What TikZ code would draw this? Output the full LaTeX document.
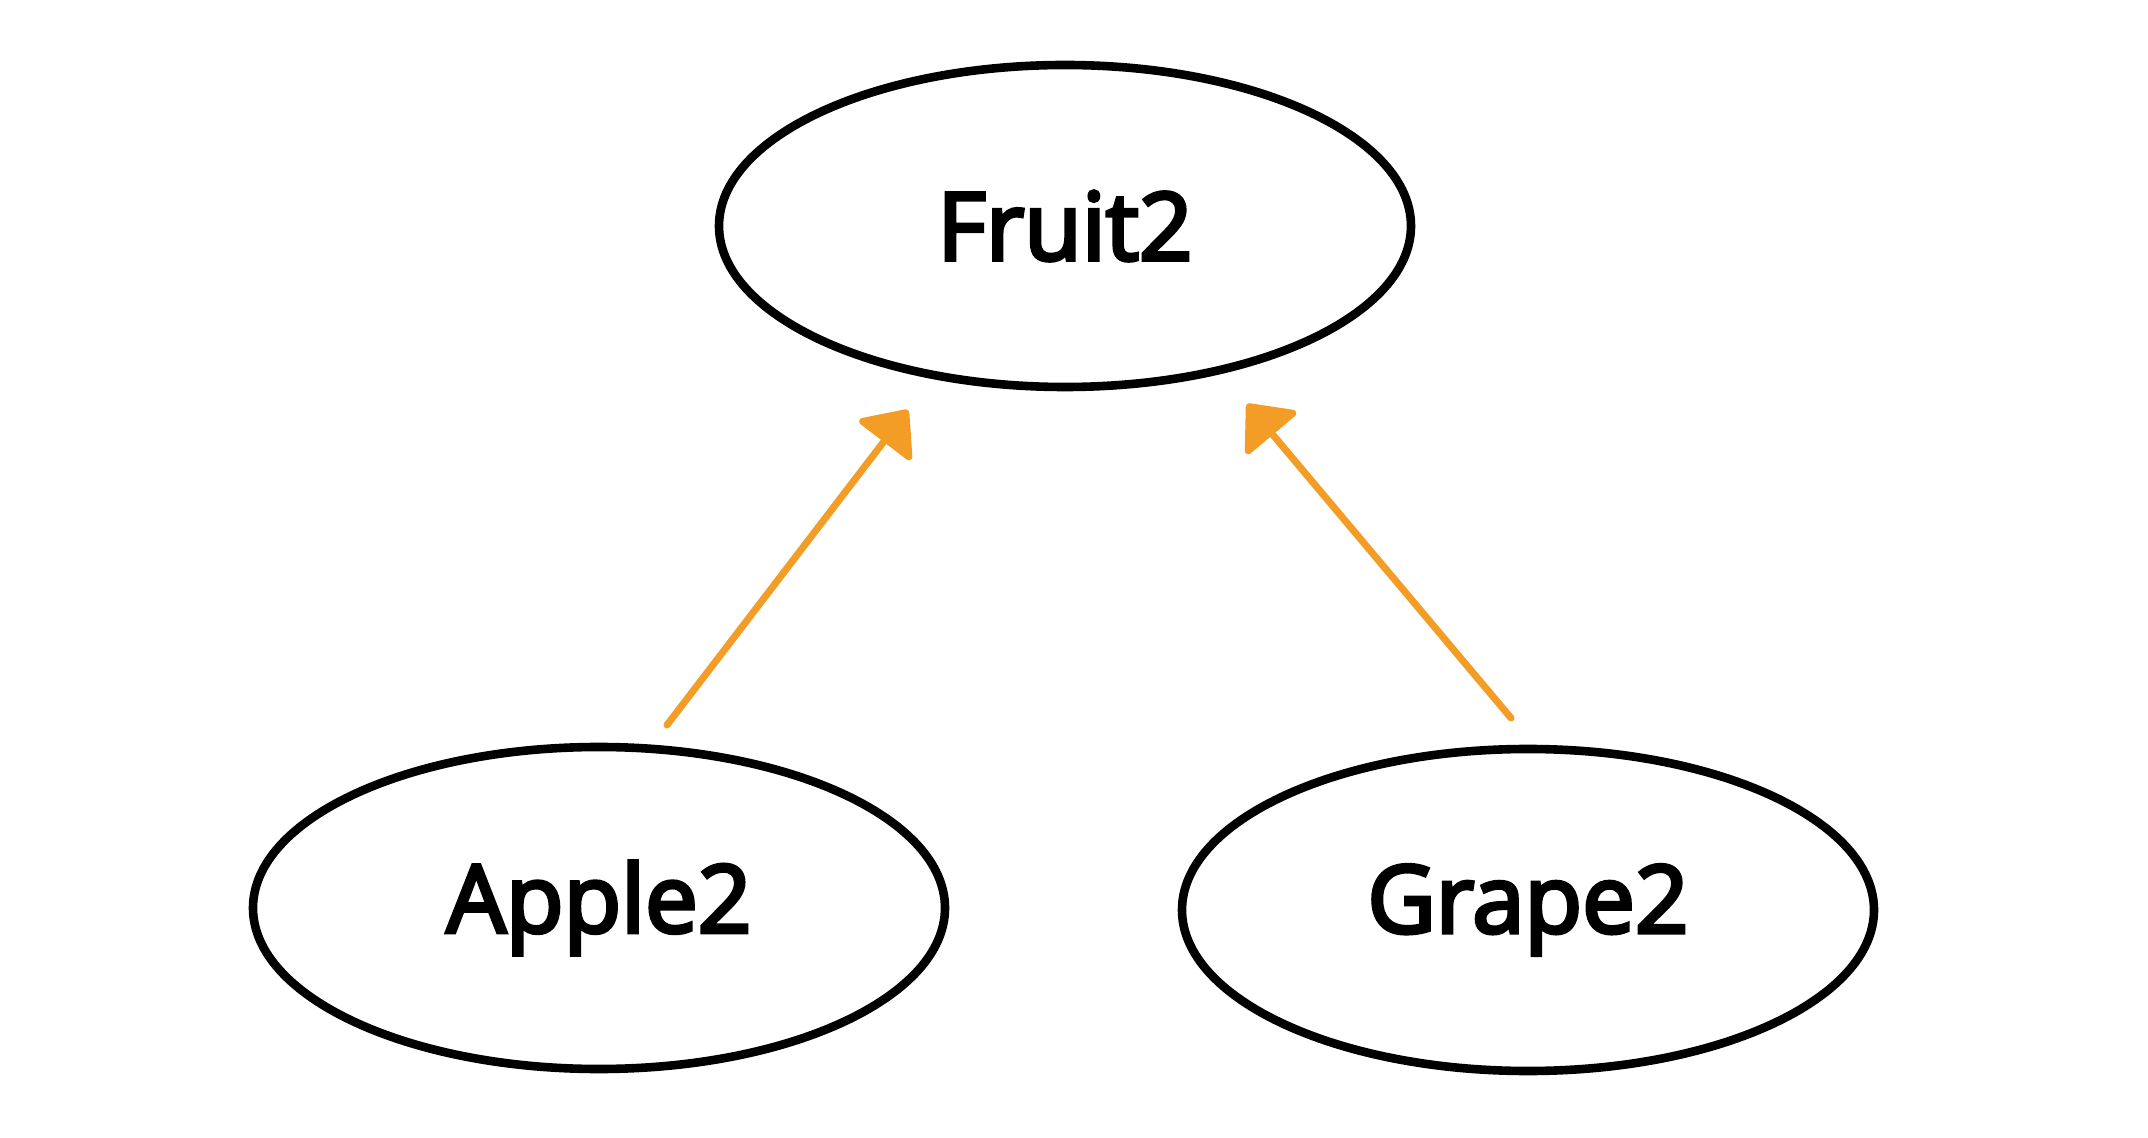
\documentclass[tikz,border=0pt]{standalone}
\usepackage{fontspec}
\setmainfont{Open Sans}[BoldFont={Open Sans},BoldFeatures={FakeBold=4}]
\usetikzlibrary{shapes.geometric,arrows.meta}
\definecolor{arrowc}{RGB}{243,157,38}
\tikzset{
  fruitnode/.style={ellipse, draw=black, line width=4.3pt, minimum width=346pt, minimum height=161pt, inner sep=0pt, font=\fontsize{47}{56}\selectfont\bfseries},
  inherit/.style={draw=arrowc, line width=3.5pt, line cap=round, -{Triangle[length=21pt,width=36pt,round]}}
}
\begin{document}
\begin{tikzpicture}[x=0.5pt,y=-0.5pt]
\useasboundingbox (0,0) rectangle (2148,1138);
\node[fruitnode] (fruit) at (1065,226) {Fruit2};
\node[fruitnode] (apple) at (599,908) {Apple2};
\node[fruitnode] (grape) at (1528,910) {Grape2};
\coordinate (a1) at (667,725);
\coordinate (a2) at (908,410);
\coordinate (g1) at (1511,718);
\coordinate (g2) at (1247,404);
\draw[inherit] (a1) -- (a2);
\draw[inherit] (g1) -- (g2);
\end{tikzpicture}
\end{document}
